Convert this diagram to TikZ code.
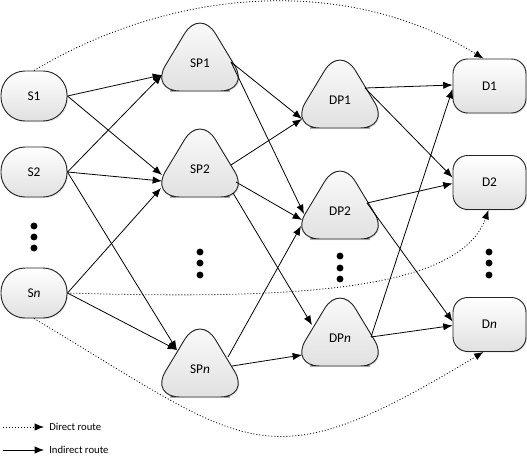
\documentclass[tikz,border=0pt]{standalone}
\usepackage{fontspec}
\setmainfont{Carlito}
\usetikzlibrary{arrows.meta,calc,shadows}
\tikzset{
  shp/.style={draw=black!85, line width=0.7pt, top color=white, bottom color=black!12,
    drop shadow={shadow xshift=0.9pt, shadow yshift=-0.9pt, opacity=0.18}},
  snode/.style={shp, rectangle, rounded corners=18pt, minimum width=49.5pt,
    minimum height=37.5pt, inner sep=0pt, font=\fontsize{10}{12}\selectfont},
  dnode/.style={shp, rectangle, rounded corners=11pt, minimum width=54.75pt,
    minimum height=40.5pt, inner sep=0pt, font=\fontsize{10}{12}\selectfont},
  trishape/.style={shp, rounded corners=22.5pt},
  lbl/.style={inner sep=0pt, font=\fontsize{10}{12}\selectfont},
  legendtxt/.style={inner sep=0pt, anchor=west, font=\fontsize{8}{10}\selectfont},
  link/.style={line width=0.6pt, -{Latex[length=7pt,width=5.5pt]}},
  direct/.style={link, dash pattern=on 0.75pt off 1.5pt},
  dotmark/.style={fill=black},
}
\newcommand\trinode[4]{%
  \path[trishape] (#2,#3+28) -- (#2+50,#3+28) -- (#2,#3-55) -- (#2-50,#3+28) -- cycle;
  \node[lbl] (#1) at (#2,#3) {#4};
}
\begin{document}
\begin{tikzpicture}[x=0.75pt,y=-0.75pt]
\useasboundingbox (0,0) rectangle (527,457);

% source nodes
\node[snode] (S1) at (34,96) {S1};
\node[snode] (S2) at (34,172) {S2};
\node[snode] (Sn) at (34,293) {S\textit{n}};

% triangle nodes
\trinode{SP1}{200}{63}{SP1}
\trinode{SP2}{200}{169}{SP2}
\trinode{SPn}{200}{369}{SP\textit{n}}
\trinode{DP1}{340}{100}{DP1}
\trinode{DP2}{340}{211}{DP2}
\trinode{DPn}{340}{338}{DP\textit{n}}

% destination nodes
\node[dnode] (D1) at (489.5,86) {D1};
\node[dnode] (D2) at (489.5,182.5) {D2};
\node[dnode] (Dn) at (489.5,324.5) {D\textit{n}};

% ellipsis dots
\foreach \x/\y in {34/226,34/237,34/248,200/252,200/263,200/275,340/256,340/268,340/279,489/252,489/263,489/275}
  \fill[dotmark] (\x,\y) circle[radius=2.6pt];

% indirect routes
\draw[link] (S1.east) -- ($(SP1)+(-38,12)$);
\draw[link] (S1.east) -- ($(SP2)+(-38,6)$);
\draw[link] (S2.east) -- ($(SP1)+(-38,12)$);
\draw[link] (S2.east) -- ($(SP2)+(-38,12)$);
\draw[link] (S2.east) -- ($(SPn)+(-23,-19)$);
\draw[link] (Sn.east) -- ($(SP2)+(-39,19)$);
\draw[link] (Sn.east) -- ($(SPn)+(-23,-19)$);

\draw[link] ($(SP1)+(31,-1)$) -- ($(DP1)+(-38,19)$);
\draw[link] ($(SP1)+(31,-1)$) -- ($(DP2)+(-36,3)$);
\draw[link] ($(SP2)+(31,-4)$) -- ($(DP1)+(-38,19)$);
\draw[link] ($(SP2)+(36,13)$) -- ($(DP2)+(-38,9)$);
\draw[link] ($(SP2)+(33,24)$) -- ($(DPn)+(-28,-13)$);
\draw[link] ($(SPn)+(28,-12)$) -- ($(DP2)+(-39,15)$);
\draw[link] ($(SPn)+(32,-3)$) -- ($(DPn)+(-38,17)$);

\draw[link] ($(DP1)+(25,-12)$) -- ($(D1.west)+(0,-1)$);
\draw[link] ($(DP1)+(25,-12)$) -- ($(D2.west)+(0,-5)$);
\draw[link] ($(DP2)+(27,-8)$) -- ($(D2.west)+(0,1)$);
\draw[link] ($(DP2)+(27,-8)$) -- ($(Dn.west)+(0,-3)$);
\draw[link] ($(DPn)+(31,-1)$) -- ($(D1.west)+(0,3)$);
\draw[link] ($(DPn)+(31,-1)$) -- ($(Dn.west)+(0,1)$);

% direct routes
\draw[direct] (S1.north) .. controls (172,-12) and (345,-26) .. ($(D1.north)+(-6,0)$);
\draw[direct] (Sn.east) .. controls (300,300) and (460,290) .. ($(D2.south)+(-1,0)$);
\draw[direct] (Sn.south) .. controls (254,450) and (264,484) .. ($(Dn.south)+(-6,0)$);

% legend
\coordinate (lg1a) at (3,427);
\coordinate (lg1b) at (44,427);
\coordinate (lg2a) at (3,450);
\coordinate (lg2b) at (44,450);
\draw[direct] (lg1a) -- (lg1b);
\draw[link] (lg2a) -- (lg2b);
\node[legendtxt] (lgt1) at (49,427) {Direct route};
\node[legendtxt] (lgt2) at (49,450) {Indirect route};
\end{tikzpicture}
\end{document}
